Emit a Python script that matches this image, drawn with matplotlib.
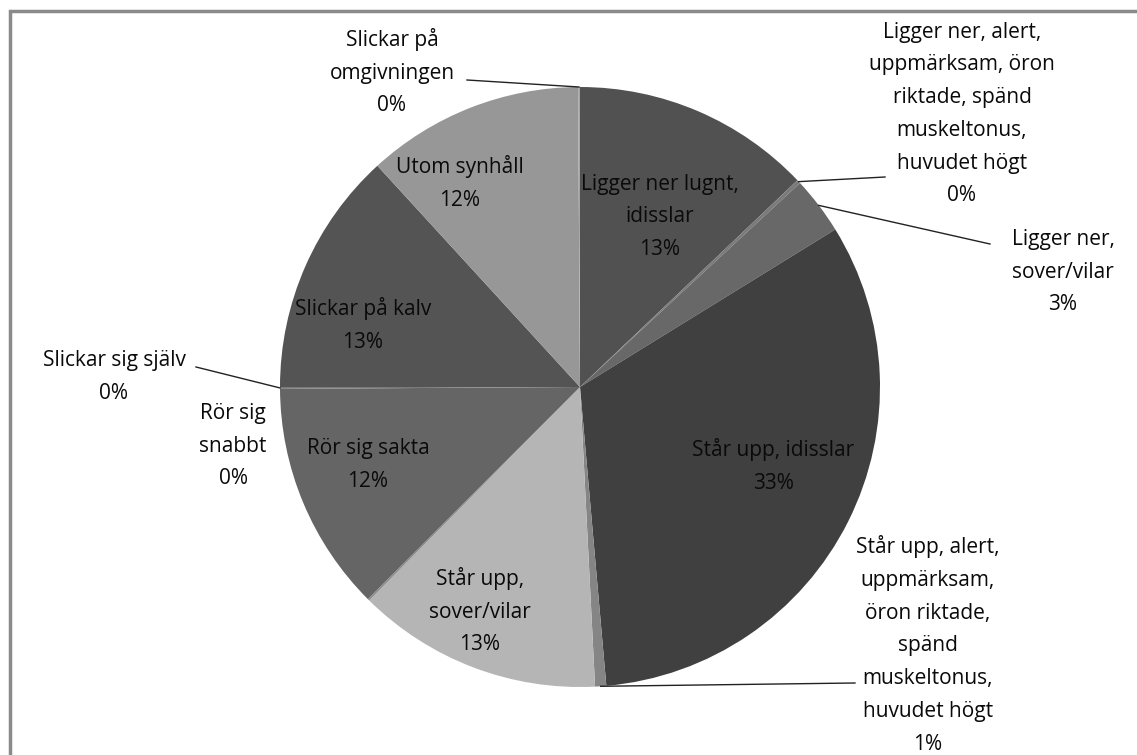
import matplotlib.pyplot as plt
import numpy as np

W, H = 1137, 755

categories = ["Ligger ner lugnt,\nidisslar",
              "Ligger ner, alert,\nuppmärksam, öron\nriktade, spänd\nmuskeltonus,\nhuvudet högt",
              "Ligger ner,\nsover/vilar",
              "Står upp, idisslar",
              "Står upp, alert,\nuppmärksam,\nöron riktade,\nspänd\nmuskeltonus,\nhuvudet högt",
              "Står upp,\nsover/vilar",
              "Rör sig\nsnabbt",
              "Rör sig sakta",
              "Slickar sig själv",
              "Slickar på kalv",
              "Utom synhåll",
              "Slickar på\nomgivningen"]
shares = [12.9, 0.2, 3.1, 32.4, 0.6, 13.2, 0.1, 12.4, 0.1, 13.2, 11.7, 0.1]
pct_labels = ["13%", "0%", "3%", "33%", "1%", "13%", "0%", "12%", "0%", "13%", "12%", "0%"]
colors = ["#515151", "#7a7a7a", "#686868", "#404040", "#858585", "#b5b5b5",
          "#8c8c8c", "#656565", "#7a7a7a", "#545454", "#979797", "#a5a5a5"]

# label placement in pixel coords (from top-left), leader end or None
inside_pos = {0: (660, 217), 3: (773, 466), 5: (480, 611),
              7: (368, 465), 9: (363, 325), 10: (460, 183)}
outside_pos = {1: ((962, 114), (885, 177)),
               2: ((1063, 272), (990, 244)),
               4: ((928, 645), (855, 683)),
               6: ((233, 446), None),
               8: ((114, 377), (196, 367)),
               11: ((392, 72), (467, 80))}

plt.rcParams['font.family'] = ['Open Sans', 'DejaVu Sans']

fig = plt.figure(figsize=(W / 100, H / 100), dpi=100)
ax = fig.add_axes([0, 0, 1, 1])

cx, cy, r = 580, H - 387, 300
wedges, _ = ax.pie(shares, colors=colors, startangle=90, counterclock=False,
                   center=(cx, cy), radius=r,
                   wedgeprops=dict(linewidth=0))
ax.set_xlim(0, W)
ax.set_ylim(0, H)
ax.axis('off')

fs = 15
ls = 1.73
for i, (px, py) in inside_pos.items():
    ax.text(px, H - py, categories[i] + "\n" + pct_labels[i], ha='center', va='center',
            fontsize=fs, linespacing=ls, color='#0a0a0a')

for i, ((px, py), end) in outside_pos.items():
    ax.text(px, H - py, categories[i] + "\n" + pct_labels[i], ha='center', va='center',
            fontsize=fs, linespacing=ls, color='#0a0a0a')
    if end is not None:
        w = wedges[i]
        th = np.deg2rad((w.theta1 + w.theta2) / 2)
        ax.plot([cx + r * np.cos(th), end[0]], [cy + r * np.sin(th), H - end[1]],
                color='#222222', lw=1)

# outer chart frame (only top and left edges are inside the picture)
ax.plot([10, 10, W + 5], [-5, H - 11, H - 11], color='#8a8a8a', lw=2.5,
        solid_joinstyle='miter', clip_on=False)

fig.savefig('out.png', dpi=100)
